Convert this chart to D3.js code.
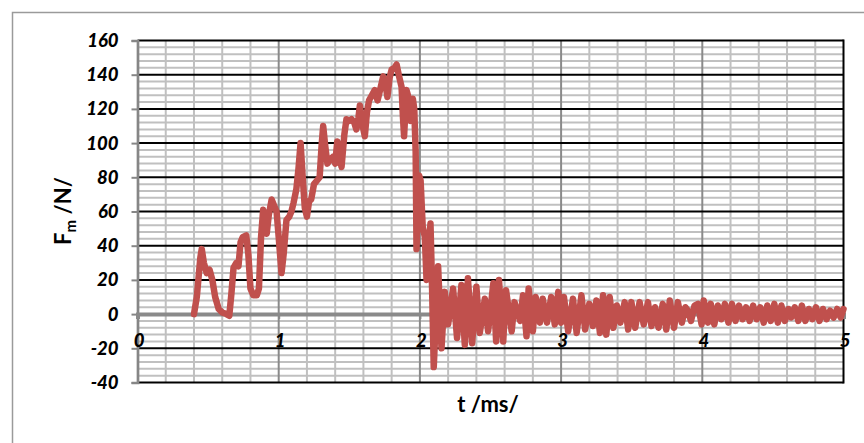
<!DOCTYPE html>
<html>
<head>
<meta charset="utf-8">
<script src="https://cdn.jsdelivr.net/npm/d3@7/dist/d3.min.js"></script>
<style>
  html, body { margin: 0; padding: 0; background: #fff; }
  svg { display: block; }
  text { font-family: Lato, "Open Sans", "Liberation Sans", sans-serif; }
</style>
</head>
<body>
<svg id="chart" width="864" height="443"></svg>
<script>
// ---- data ----
const timeMs = [
  0.400, 0.420, 0.445, 0.455, 0.470, 0.490, 0.510, 0.530, 0.550, 0.575,
  0.600, 0.630, 0.650, 0.665, 0.680, 0.700, 0.715, 0.730, 0.745, 0.770,
  0.785, 0.800, 0.820, 0.845, 0.860, 0.875, 0.890, 0.905, 0.915, 0.930,
  0.950, 0.965, 0.985, 1.000, 1.020, 1.035, 1.055, 1.075, 1.090, 1.105,
  1.125, 1.140, 1.155, 1.170, 1.185, 1.200, 1.215, 1.230, 1.250, 1.270,
  1.290, 1.305, 1.315, 1.330, 1.345, 1.360, 1.385, 1.400, 1.415, 1.430,
  1.445, 1.465, 1.480, 1.500, 1.515, 1.535, 1.550, 1.565, 1.575, 1.590,
  1.610, 1.625, 1.640, 1.660, 1.680, 1.700, 1.715, 1.740, 1.755, 1.770,
  1.785, 1.800, 1.820, 1.835, 1.850, 1.870, 1.880, 1.888, 1.895, 1.905,
  1.915, 1.935, 1.950, 1.960, 1.970, 1.976, 1.985, 1.995, 2.005, 2.020,
  2.035, 2.047, 2.060, 2.075, 2.085, 2.098, 2.129, 2.153, 2.176, 2.200,
  2.235, 2.263, 2.294, 2.318, 2.340, 2.370, 2.400, 2.424, 2.460, 2.483,
  2.520, 2.540, 2.560, 2.590, 2.610, 2.650, 2.670, 2.710, 2.730, 2.755,
  2.770, 2.800, 2.820, 2.850, 2.870, 2.900, 2.930, 2.955, 2.980, 3.000,
  3.020, 3.050, 3.084, 3.110, 3.144, 3.170, 3.200, 3.225, 3.250, 3.275,
  3.297, 3.320, 3.344, 3.370, 3.395, 3.420, 3.450, 3.475, 3.498, 3.525,
  3.556, 3.585, 3.615, 3.640, 3.665, 3.690, 3.720, 3.745, 3.770, 3.800,
  3.827, 3.855, 3.880, 3.898, 3.920, 3.945, 3.969, 3.995, 4.010, 4.040,
  4.060, 4.085, 4.110, 4.135, 4.160, 4.185, 4.210, 4.235, 4.260, 4.285,
  4.310, 4.335, 4.360, 4.385, 4.410, 4.435, 4.460, 4.485, 4.510, 4.535,
  4.560, 4.585, 4.610, 4.630, 4.655, 4.680, 4.705, 4.730, 4.755, 4.780,
  4.805, 4.830, 4.855, 4.880, 4.905, 4.930, 4.955, 4.980, 5.000
];
const forceN = [
  0, 10, 33, 38, 30, 24, 26, 20, 10, 3,
  1, 0, -1, 12, 27, 30, 28, 42, 45, 46,
  35, 15, 11, 11, 15, 45, 61, 55, 47, 58,
  67, 64, 60, 45, 24, 35, 55, 57, 60, 65,
  73, 85, 100, 80, 62, 57, 66, 67, 76, 78,
  80, 100, 110, 98, 88, 90, 92, 88, 101, 93,
  86, 105, 114, 113, 114, 112, 108, 115, 122, 112,
  104, 118, 125, 128, 131, 125, 130, 139, 135, 127,
  138, 143, 144, 146, 140, 133, 115, 104, 115, 131,
  128, 113, 126, 120, 95, 38, 60, 81, 78, 51,
  45, 20, 38, 53, 20, -31, 28, -20, 13, -6,
  15, -14, 17, -18, 21, -17, 16, -11, 9, -10,
  18, -16, 20, -16, 14, -10, 7, -4, 11, -13,
  15, -10, 10, -5, 9, -5, 10, -6, 13, -5,
  10, -10, 9, -11, 11, -9, 6, -7, 8, -11,
  11, -12, 10, -8, 5, -5, 7, -9, 7, -8,
  7, -6, 7, -7, 4, -8, 6, -9, 8, -8,
  7, -5, 4, 2, -4, 5, 6, -6, 8, -5,
  6, -6, 5, -3, 6, -5, 6, -4, 5, -3,
  4, -4, 5, -3, 4, -5, 5, -4, 6, -5,
  5, -4, 3, -2, 4, -4, 5, -4, 3, -3,
  4, -4, 3, -3, 2, -2, 3, -2, 3
];
const xTickLabels = [0, 1, 2, 3, 4, 5];
const yTickLabels = [-40, -20, 0, 20, 40, 60, 80, 100, 120, 140, 160];
const xTitle = "t /ms/";
const yTitleMain = "F";
const yTitleSub = "m";
const yTitleRest = " /N/";

// ---- layout ----
const svg = d3.select("#chart");
const x = d3.scaleLinear().domain([0, 5]).range([137.5, 843.5]);
const y = d3.scaleLinear().domain([-40, 160]).range([382.5, 40.5]);

// outer chart-area frame (extends beyond window on right/bottom)
svg.append("rect")
  .attr("x", 12.5).attr("y", 12.5)
  .attr("width", 900).attr("height", 500)
  .attr("fill", "#fff").attr("stroke", "#9a9a9a").attr("stroke-width", 1.5);

const g = svg.append("g");

// minor horizontal grid every 4 N
const minorY = d3.range(-40, 160.01, 4).filter(v => v % 20 !== 0);
g.selectAll(".minorY").data(minorY).join("line")
  .attr("x1", x(0)).attr("x2", x(5))
  .attr("y1", d => y(d)).attr("y2", d => y(d))
  .attr("stroke", "#c0c0c0").attr("stroke-width", 2);

// minor vertical grid every 0.2 ms
const minorX = d3.range(0, 5.001, 0.2).filter(v => Math.abs(v - Math.round(v)) > 1e-6);
g.selectAll(".minorX").data(minorX).join("line")
  .attr("x1", d => x(d)).attr("x2", d => x(d))
  .attr("y1", y(160)).attr("y2", y(-40))
  .attr("stroke", "#c0c0c0").attr("stroke-width", 2);

// major vertical grid at integer ms
g.selectAll(".majorX").data(xTickLabels.filter(v => v > 0 && v < 5)).join("line")
  .attr("x1", d => x(d)).attr("x2", d => x(d))
  .attr("y1", y(160)).attr("y2", y(-40))
  .attr("stroke", "#8a8a8a").attr("stroke-width", 2);

// major horizontal grid (black) every 20 N
g.selectAll(".majorY").data(yTickLabels.filter(v => v !== 0)).join("line")
  .attr("x1", x(0)).attr("x2", x(5))
  .attr("y1", d => y(d)).attr("y2", d => y(d))
  .attr("stroke", "#000").attr("stroke-width", 2);

// right border
g.append("line")
  .attr("x1", x(5)).attr("x2", x(5)).attr("y1", y(160) - 1).attr("y2", y(-40) + 1)
  .attr("stroke", "#000").attr("stroke-width", 2);

const tickFont = sel => sel
  .attr("fill", "#000")
  .style("font-size", "18.5px").style("font-weight", "900").style("font-style", "italic")
  .style("font-family", "Lato, 'Open Sans', sans-serif");

// y axis (left) with ticks
const yAxis = d3.axisLeft(y).tickValues(yTickLabels).tickSize(6).tickFormat(d => d);
const yg = svg.append("g").attr("transform", `translate(${x(0)},0)`).call(yAxis);
yg.select(".domain").attr("stroke", "#868686").attr("stroke-width", 2.7);
yg.selectAll(".tick line").attr("stroke", "#868686").attr("stroke-width", 2);
yg.selectAll(".tick text").attr("x", -19).call(tickFont);

// x axis line at zero
const xAxis = d3.axisBottom(x).tickValues(xTickLabels).tickSize(5).tickFormat(d => d);
const xg = svg.append("g").attr("transform", `translate(0,${y(0)})`).call(xAxis);
xg.select(".domain").attr("stroke", "#8a8a8a").attr("stroke-width", 4);
xg.selectAll(".tick line").attr("stroke", "#8a8a8a").attr("stroke-width", 2);
xg.selectAll(".tick text")
  .attr("y", 0).attr("dy", null)
  .attr("transform", `translate(1, ${y(-20) - y(0) - 1})`)
  .call(tickFont);

// data line
const pts = timeMs.map((t, i) => [t, forceN[i]]);
svg.append("path")
  .datum(pts)
  .attr("fill", "none")
  .attr("stroke", "#c0504d")
  .attr("stroke-width", 6.5)
  .attr("stroke-linejoin", "round")
  .attr("stroke-linecap", "round")
  .attr("d", d3.line().x(d => x(d[0])).y(d => y(d[1])));

// axis titles
svg.append("text")
  .attr("x", 488).attr("y", 412)
  .attr("text-anchor", "middle")
  .style("font-size", "22px").style("font-weight", "700")
  .text(xTitle);

const yt = svg.append("text")
  .attr("transform", "translate(71,211) rotate(-90)")
  .attr("text-anchor", "middle")
  .style("font-size", "22px").style("font-weight", "700");
yt.append("tspan").text(yTitleMain);
yt.append("tspan").attr("dy", 5).style("font-size", "15px").text(yTitleSub);
yt.append("tspan").attr("dy", -5).text(yTitleRest);
</script>
</body>
</html>
